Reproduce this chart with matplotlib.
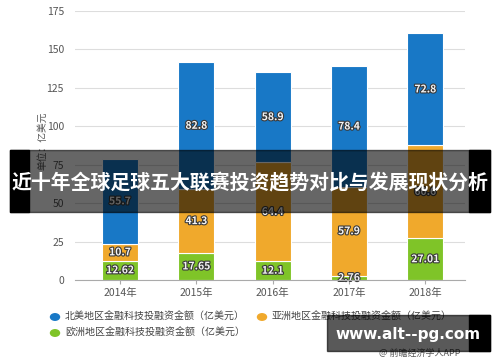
import matplotlib
matplotlib.use('Agg')
import matplotlib.pyplot as plt
import matplotlib.patheffects as pe
from matplotlib.patches import Rectangle, Circle
import numpy as np

plt.rcParams['font.family'] = ['Noto Sans CJK SC', 'DejaVu Sans']

years = ['2014年', '2015年', '2016年', '2017年', '2018年']
europe = [12.62, 17.65, 12.1, 2.76, 27.01]
asia = [10.7, 41.3, 64.4, 57.9, 60.6]
north_america = [55.7, 82.8, 58.9, 78.4, 72.8]

series_names = ['北美地区金融科技投融资金额（亿美元）',
                '亚洲地区金融科技投融资金额（亿美元）',
                '欧洲地区金融科技投融资金额（亿美元）']
title = '近十年全球足球五大联赛投资趋势对比与发展现状分析'
site = 'www.alt--pg.com'
credit = '@ 前瞻经济学人APP'

c_blue = '#1878c6'
c_orange = '#f0a92c'
c_green = '#7fc428'

W, H = 500, 362


def px(x, y):
    return x / W, 1 - y / H


fig = plt.figure(figsize=(5, 3.62), dpi=100)
ax = fig.add_axes([0.15, 0.2265, 0.78, 0.743])

x = np.arange(len(years))
bw = 0.47
eu = np.array(europe)
asa = np.array(asia)
na = np.array(north_america)

ax.bar(x, eu, bw, color=c_green, edgecolor='white', linewidth=0.8, zorder=3)
ax.bar(x, asa, bw, bottom=eu, color=c_orange, edgecolor='white', linewidth=0.8, zorder=3)
ax.bar(x, na, bw, bottom=eu + asa, color=c_blue, edgecolor='white', linewidth=0.8, zorder=3)

stroke = [pe.withStroke(linewidth=1.6, foreground='#3a3a3a')]
for i in range(len(years)):
    segs = [(eu[i], 0), (asa[i], eu[i]), (na[i], eu[i] + asa[i])]
    for val, base in segs:
        ax.text(x[i], base + val / 2, f'{val:g}', ha='center', va='center',
                fontsize=7.5, color='#f4f4f4', fontweight='bold',
                path_effects=stroke, zorder=4)

ax.set_xlim(-0.59, 4.52)
ax.set_ylim(0, 175)
ax.set_yticks(np.arange(0, 176, 25))
ax.set_xticks(x)
ax.set_xticklabels(years)
ax.tick_params(axis='y', length=0, labelsize=7.5, labelcolor='#555555', pad=8)
ax.tick_params(axis='x', length=3, color='#aaaaaa', labelsize=7.5,
               labelcolor='#555555', pad=3)
ax.grid(axis='y', color='#dddddd', linewidth=0.8, zorder=0)
for s in ['top', 'right', 'left']:
    ax.spines[s].set_visible(False)
ax.spines['bottom'].set_color('#aaaaaa')
ax.spines['bottom'].set_zorder(5)

fig.text(*px(42, 141), '单位：亿美元', rotation=90, ha='center', va='center',
         fontsize=7, color='#555555')

# legend drawn by hand to match the layout
legend_items = [(55, 317, c_blue, series_names[0]),
                (262, 317, c_orange, series_names[1]),
                (55, 333, c_green, series_names[2])]
for lx, ly, col, name in legend_items:
    cx, cy = px(lx, ly)
    fig.add_artist(Circle((cx, cy), 4.5 / W, transform=fig.transFigure,
                          color=col))
    fig.text(*px(lx + 10, ly), name, ha='left', va='center', fontsize=7.2,
             color='#444444')

# title banner overlay
fig.add_artist(Rectangle(px(10, 212), 480 / W, 62 / H, transform=fig.transFigure,
                         color='black', alpha=0.6, zorder=10))
fig.add_artist(Rectangle(px(10, 212), 19 / W, 62 / H, transform=fig.transFigure,
                         color='black', zorder=10))
fig.add_artist(Rectangle(px(469, 212), 21 / W, 62 / H, transform=fig.transFigure,
                         color='black', zorder=10))
fig.text(*px(250, 183), title, ha='center', va='center', fontsize=14.3,
         color='white', fontweight='bold', zorder=11)

# site box
fig.add_artist(Rectangle(px(327, 351), 163 / W, 36 / H, transform=fig.transFigure,
                         color='black', alpha=0.65, zorder=10))
fig.add_artist(Rectangle(px(469, 351), 21 / W, 36 / H, transform=fig.transFigure,
                         color='black', zorder=10))
fig.text(*px(408, 334), site, ha='center', va='center', fontsize=11,
         color='white', fontweight='bold', family='DejaVu Sans', zorder=11)

fig.text(*px(420, 353), credit, ha='center', va='center', fontsize=6.5,
         color='#555555')

fig.savefig('out.png', dpi=100)
